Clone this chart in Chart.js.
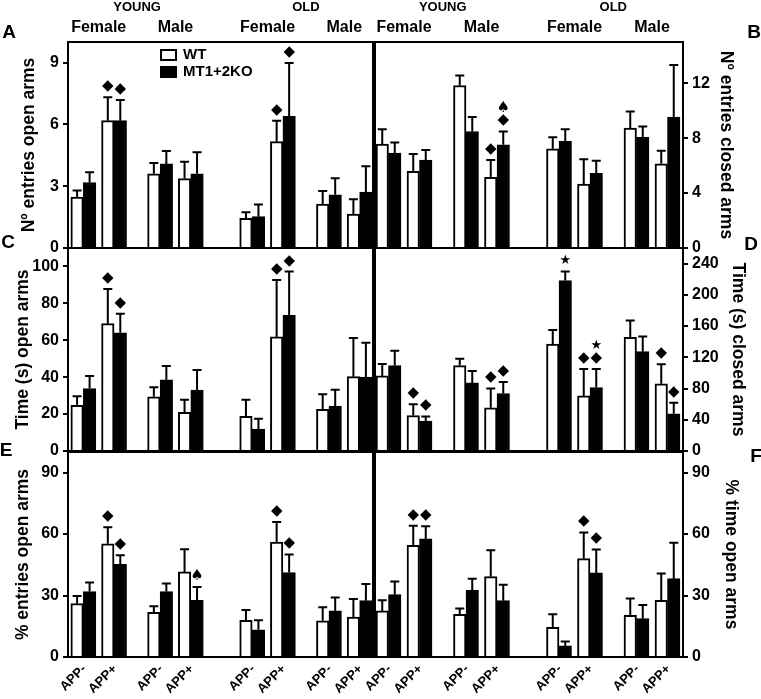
<!DOCTYPE html>
<html><head><meta charset="utf-8">
<script src="https://cdn.jsdelivr.net/npm/chart.js@4/dist/chart.umd.min.js"></script>
<style>
html,body{margin:0;padding:0;background:#fff;}
#wrap{position:relative;width:761px;height:699px;overflow:hidden;background:#fff;}
#wrap canvas{position:absolute;left:0;top:0;}
</style></head><body><div id="wrap">
<canvas id="cA" width="761" height="699"></canvas>
<canvas id="cB" width="761" height="699"></canvas>
<canvas id="cC" width="761" height="699"></canvas>
<canvas id="cD" width="761" height="699"></canvas>
<canvas id="cE" width="761" height="699"></canvas>
<canvas id="cF" width="761" height="699"></canvas>
</div>
<script>
// ---- categories ----
const ages = ['YOUNG', 'OLD'];
const sexes = ['Female', 'Male'];
const appLabels = ['APP-', 'APP+'];
const seriesNames = ['WT', 'MT1+2KO'];

// ---- tick labels ----
const ticksA = [0, 3, 6, 9];
const ticksB = [0, 4, 8, 12];
const ticksC = [0, 20, 40, 60, 80, 100];
const ticksD = [0, 40, 80, 120, 160, 200, 240];
const ticksE = [0, 30, 60, 90];
const ticksF = [0, 30, 60, 90];

// ---- values (order: Young F APP-, APP+, Young M APP-, APP+, Old F APP-, APP+, Old M APP-, APP+) ----
// A: Nº entries open arms
const openEntriesWT = [2.47, 6.18, 3.6, 3.37, 1.44, 5.16, 2.13, 1.65];
const openEntriesWTErr = [0.32, 1.14, 0.53, 0.82, 0.29, 1.02, 0.64, 0.72];
const openEntriesKO = [3.18, 6.18, 4.08, 3.6, 1.52, 6.39, 2.58, 2.71];
const openEntriesKOErr = [0.5, 1.01, 0.63, 1.05, 0.59, 2.59, 0.81, 1.26];
const openEntriesWTMarks = ['', '◆', '', '', '', '◆', '', ''];
const openEntriesKOMarks = ['', '◆', '', '', '', '◆', '', ''];
// B: Nº entries closed arms
const closedEntriesWT = [7.56, 5.58, 11.83, 5.14, 7.22, 4.65, 8.73, 6.13];
const closedEntriesWTErr = [1.09, 1.26, 0.73, 1.26, 0.85, 1.82, 1.21, 0.95];
const closedEntriesKO = [6.91, 6.4, 8.48, 7.52, 7.76, 5.43, 8.05, 9.53];
const closedEntriesKOErr = [0.77, 0.73, 1.05, 0.96, 0.89, 0.92, 0.8, 3.8];
const closedEntriesWTMarks = ['', '', '', '◆', '', '', '', ''];
const closedEntriesKOMarks = ['', '', '', '◆♠', '', '', '', ''];
// C: Time (s) open arms
const openTimeWT = [24.7, 69.0, 29.4, 20.9, 18.8, 61.8, 22.6, 40.3];
const openTimeWTErr = [4.9, 18.8, 5.1, 6.9, 9.0, 30.8, 8.1, 20.9];
const openTimeKO = [33.8, 64.1, 38.6, 33.0, 11.9, 73.5, 24.4, 40.1];
const openTimeKOErr = [6.8, 10.3, 7.4, 10.9, 5.6, 23.7, 8.8, 18.6];
const openTimeWTMarks = ['', '◆', '', '', '', '◆', '', ''];
const openTimeKOMarks = ['', '◆', '', '', '', '◆', '', ''];
// D: Time (s) closed arms
const closedTimeWT = [96.2, 45.5, 109.4, 55.3, 137.0, 70.6, 145.5, 86.0];
const closedTimeWTErr = [15.3, 14.5, 8.9, 24.7, 17.9, 34.5, 21.7, 25.1];
const closedTimeKO = [109.4, 38.3, 87.2, 73.6, 218.3, 81.3, 127.2, 47.7];
const closedTimeKOErr = [19.1, 6.0, 15.3, 14.9, 11.5, 23.8, 19.6, 14.0];
const closedTimeWTMarks = ['', '◆', '', '◆', '', '◆', '', '◆'];
const closedTimeKOMarks = ['', '◆', '', '◆', '★', '◆★', '', '◆'];
// E: % entries open arms
const pctEntriesWT = [26.0, 55.2, 21.8, 41.5, 17.9, 56.0, 17.7, 19.5];
const pctEntriesWTErr = [3.8, 8.1, 2.9, 11.1, 5.0, 9.8, 6.6, 8.8];
const pctEntriesKO = [31.9, 45.2, 31.9, 27.7, 13.3, 41.2, 22.5, 27.5];
const pctEntriesKOErr = [4.4, 4.4, 3.9, 6.5, 4.6, 8.8, 6.5, 8.1];
const pctEntriesWTMarks = ['', '◆', '', '', '', '◆', '', ''];
const pctEntriesKOMarks = ['', '◆', '', '♠', '', '◆', '', ''];
// F: % time open arms
const pctTimeWT = [22.5, 54.5, 20.8, 39.2, 14.5, 48.0, 20.3, 27.7];
const pctTimeWTErr = [5.2, 9.5, 2.8, 12.9, 6.3, 12.7, 8.2, 13.0];
const pctTimeKO = [30.4, 57.6, 32.6, 27.5, 5.4, 41.0, 18.7, 38.2];
const pctTimeKOErr = [6.4, 6.2, 5.6, 7.7, 2.2, 11.4, 6.7, 17.5];
const pctTimeWTMarks = ['', '◆', '', '', '', '◆', '', ''];
const pctTimeKOMarks = ['', '◆', '', '', '', '◆', '', ''];

// ---- layout (code, not data) ----
const FONT = '"Liberation Sans", Arial, sans-serif';
const SLOTS = [];
ages.forEach((a, ai) => sexes.forEach((s, si) => appLabels.forEach((p, pi) => {
  SLOTS.push(1 + ai * 11 + si * 5 + pi * 2);
})));
const COLS = {
  left:  { padL: 10, padR: 386, axisW: 58, pos: 'left' },
  right: { padL: 373, padR: 10, axisW: 68, pos: 'right' }
};
const ROWS = [
  { top: 42, bottom: 451 },
  { top: 248, bottom: 248 },
  { top: 452, bottom: 42 }
];

const framePlugin = {
  id: 'frame',
  afterDraw(chart) {
    const { ctx, chartArea: a } = chart;
    ctx.save();
    ctx.strokeStyle = '#000'; ctx.lineWidth = 2;
    ctx.strokeRect(a.left, a.top, a.right - a.left, a.bottom - a.top);
    ctx.restore();
  }
};

const errPlugin = {
  id: 'errbars',
  afterDatasetsDraw(chart) {
    const ctx = chart.ctx, ys = chart.scales.y;
    chart.data.datasets.forEach((ds, di) => {
      const meta = chart.getDatasetMeta(di);
      meta.data.forEach((bar, i) => {
        const v = ds.data[i].y, e = ds.err[i];
        const yTop = ys.getPixelForValue(v + e);
        ctx.save();
        ctx.strokeStyle = '#000'; ctx.lineWidth = 2;
        ctx.beginPath();
        ctx.moveTo(bar.x, bar.y); ctx.lineTo(bar.x, yTop);
        ctx.moveTo(bar.x - 4.5, yTop); ctx.lineTo(bar.x + 4.5, yTop);
        ctx.stroke();
        const marks = Array.from(ds.marks[i] || '');
        ctx.fillStyle = '#000'; ctx.textAlign = 'center'; ctx.textBaseline = 'middle';
        marks.forEach((ch, k) => {
          ctx.font = (ch === '★' ? '13px' : '15px') + ' "DejaVu Sans", sans-serif';
          ctx.fillText(ch, bar.x, yTop - 11 - k * 12);
        });
        ctx.restore();
      });
    });
  }
};

function extraPlugin(letter, lx, ly, header, legend, xLabels) {
  return {
    id: 'extra' + letter,
    afterDraw(chart) {
      const ctx = chart.ctx, xs = chart.scales.x, a = chart.chartArea;
      ctx.save();
      ctx.fillStyle = '#000';
      ctx.textAlign = 'center'; ctx.textBaseline = 'middle';
      ctx.font = 'bold 19px ' + FONT;
      ctx.fillText(letter, lx, ly);
      if (header) {
        ages.forEach((age, ai) => {
          const c = (SLOTS[ai * 4] + SLOTS[ai * 4 + 3]) / 2;
          ctx.font = 'bold 13px ' + FONT;
          ctx.fillText(age, xs.getPixelForValue(c), 7);
          sexes.forEach((sx, si) => {
            const cc = (SLOTS[ai * 4 + si * 2] + SLOTS[ai * 4 + si * 2 + 1]) / 2;
            ctx.font = 'bold 16px ' + FONT;
            ctx.fillText(sx, xs.getPixelForValue(cc), 28);
          });
        });
      }
      if (xLabels) {
        ctx.font = 'bold 13px ' + FONT;
        ctx.textAlign = 'right'; ctx.textBaseline = 'middle';
        SLOTS.forEach((s, i) => {
          const px = xs.getPixelForValue(s);
          ctx.save();
          ctx.translate(px + 1, a.bottom + 10);
          ctx.rotate(-Math.PI / 4);
          ctx.fillText(appLabels[i % 2], 0, 0);
          ctx.restore();
        });
      }
      if (legend) {
        const lxp = a.left + 93;
        ctx.lineWidth = 2; ctx.strokeStyle = '#000';
        ctx.fillStyle = '#fff';
        ctx.fillRect(lxp, a.top + 8, 15, 10);
        ctx.strokeRect(lxp, a.top + 8, 15, 10);
        ctx.fillStyle = '#000';
        ctx.fillRect(lxp - 1, a.top + 24, 17, 12);
        ctx.textAlign = 'left';
        ctx.font = 'bold 15px ' + FONT;
        ctx.fillText(seriesNames[0], lxp + 22, a.top + 13);
        ctx.fillText(seriesNames[1], lxp + 22, a.top + 30);
      }
      ctx.restore();
    }
  };
}

function makePanel(id, col, row, title, titlePad, yMax, yTicks, wt, wtErr, ko, koErr, wtMarks, koMarks, extra) {
  const C = COLS[col], R = ROWS[row];
  const cfg = {
    type: 'bar',
    data: {
      datasets: [
        { label: seriesNames[0], data: wt.map((v, i) => ({ x: SLOTS[i], y: v })), err: wtErr, marks: wtMarks,
          backgroundColor: '#fff', borderColor: '#000', borderWidth: 2, barThickness: 12.5 },
        { label: seriesNames[1], data: ko.map((v, i) => ({ x: SLOTS[i], y: v })), err: koErr, marks: koMarks,
          backgroundColor: '#000', borderColor: '#000', borderWidth: 2, barThickness: 12.5 }
      ]
    },
    options: {
      responsive: false, animation: false, events: [],
      layout: { padding: { left: C.padL, right: C.padR, top: R.top, bottom: R.bottom } },
      plugins: { legend: { display: false }, tooltip: { enabled: false } },
      scales: {
        x: { type: 'linear', min: 0, max: 20, offset: false, display: false },
        y: {
          type: 'linear', position: C.pos, min: 0, max: yMax,
          afterBuildTicks: s => { s.ticks = yTicks.map(v => ({ value: v })); },
          grid: { display: true, drawOnChartArea: false, drawTicks: true, tickLength: 5, color: '#000', lineWidth: 2 },
          border: { display: false },
          ticks: { color: '#000', padding: 4, font: { family: FONT, size: 16, weight: 'bold' } },
          title: { display: true, text: title, color: '#000', padding: { top: titlePad, bottom: 0 },
                   font: { family: FONT, size: 17.5, weight: 'bold' } },
          afterFit: s => { s.width = C.axisW; s.paddingTop = 0; s.paddingBottom = 0; }
        }
      }
    },
    plugins: [errPlugin, framePlugin, extra]
  };
  return new Chart(document.getElementById(id), cfg);
}

makePanel('cA', 'left', 0, 'Nº entries open arms', 9, 10, ticksA,
  openEntriesWT, openEntriesWTErr, openEntriesKO, openEntriesKOErr, openEntriesWTMarks, openEntriesKOMarks,
  extraPlugin('A', 9, 33, true, true, false));
makePanel('cB', 'right', 0, 'Nº entries closed arms', 15, 15, ticksB,
  closedEntriesWT, closedEntriesWTErr, closedEntriesKO, closedEntriesKOErr, closedEntriesWTMarks, closedEntriesKOMarks,
  extraPlugin('B', 754, 33, true, false, false));
makePanel('cC', 'left', 1, 'Time (s) open arms', 3, 110, ticksC,
  openTimeWT, openTimeWTErr, openTimeKO, openTimeKOErr, openTimeWTMarks, openTimeKOMarks,
  extraPlugin('C', 8, 243, false, false, false));
makePanel('cD', 'right', 1, 'Time (s) closed arms', 3, 260, ticksD,
  closedTimeWT, closedTimeWTErr, closedTimeKO, closedTimeKOErr, closedTimeWTMarks, closedTimeKOMarks,
  extraPlugin('D', 751, 245, false, false, false));
makePanel('cE', 'left', 2, '% entries open arms', 3, 100, ticksE,
  pctEntriesWT, pctEntriesWTErr, pctEntriesKO, pctEntriesKOErr, pctEntriesWTMarks, pctEntriesKOMarks,
  extraPlugin('E', 6, 451, false, false, true));
makePanel('cF', 'right', 2, '% time open arms', 10, 100, ticksF,
  pctTimeWT, pctTimeWTErr, pctTimeKO, pctTimeKOErr, pctTimeWTMarks, pctTimeKOMarks,
  extraPlugin('F', 756, 457, false, false, true));
</script>
</body></html>
